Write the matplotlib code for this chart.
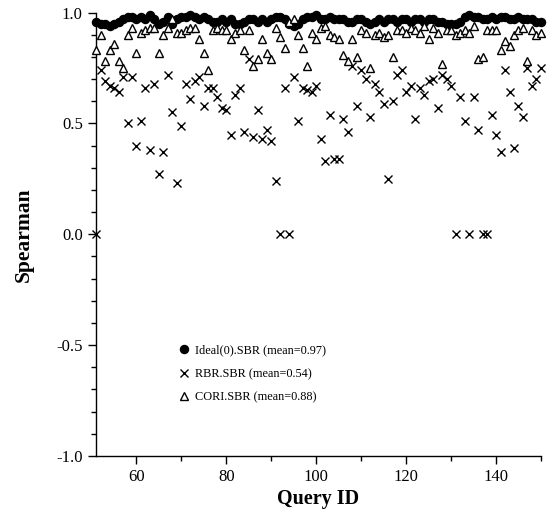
import matplotlib

matplotlib.use("Agg")
import matplotlib.pyplot as plt
from matplotlib.ticker import MultipleLocator


QUERY_IDS = list(range(51, 151))

IDEAL = [
    0.96, 0.95, 0.95, 0.94, 0.95, 0.96, 0.97, 0.98, 0.98, 0.97,
    0.98, 0.97, 0.99, 0.97, 0.95, 0.96, 0.98, 0.95, 0.97, 0.98,
    0.98, 0.99, 0.98, 0.97, 0.98, 0.97, 0.96, 0.96, 0.97, 0.96,
    0.97, 0.95, 0.95, 0.96, 0.97, 0.97, 0.96, 0.97, 0.96, 0.97,
    0.98, 0.98, 0.97, 0.95, 0.94, 0.95, 0.97, 0.98, 0.98, 0.99,
    0.97, 0.97, 0.98, 0.97, 0.97, 0.97, 0.96, 0.96, 0.97, 0.97,
    0.96, 0.95, 0.96, 0.97, 0.96, 0.97, 0.97, 0.96, 0.97, 0.97,
    0.96, 0.97, 0.97, 0.96, 0.97, 0.97, 0.96, 0.96, 0.95, 0.95,
    0.95, 0.96, 0.98, 0.99, 0.98, 0.98, 0.97, 0.97, 0.98, 0.97,
    0.98, 0.98, 0.97, 0.97, 0.98, 0.97, 0.97, 0.97, 0.96, 0.96,
]

RBR = [
    0.00, 0.74, 0.69, 0.67, 0.66, 0.64, 0.71, 0.50, 0.71, 0.40,
    0.51, 0.66, 0.38, 0.68, 0.27, 0.37, 0.72, 0.55, 0.23, 0.49,
    0.68, 0.61, 0.69, 0.71, 0.58, 0.66, 0.66, 0.62, 0.57, 0.56,
    0.45, 0.63, 0.66, 0.46, 0.79, 0.44, 0.56, 0.43, 0.47, 0.42,
    0.24, 0.00, 0.66, 0.00, 0.71, 0.51, 0.66, 0.65, 0.64, 0.67,
    0.43, 0.33, 0.54, 0.34, 0.34, 0.52, 0.46, 0.76, 0.58, 0.74,
    0.70, 0.53, 0.68, 0.64, 0.59, 0.25, 0.60, 0.72, 0.74, 0.64,
    0.67, 0.52, 0.66, 0.63, 0.69, 0.70, 0.57, 0.72, 0.70, 0.67,
    0.00, 0.62, 0.51, 0.00, 0.62, 0.47, 0.00, 0.00, 0.54, 0.45,
    0.37, 0.74, 0.64, 0.39, 0.58, 0.53, 0.75, 0.67, 0.70, 0.75,
]

CORI = [
    0.83, 0.90, 0.78, 0.83, 0.86, 0.78, 0.75, 0.90, 0.93, 0.82,
    0.91, 0.92, 0.93, 0.93, 0.82, 0.90, 0.93, 0.97, 0.91, 0.91,
    0.92, 0.93, 0.93, 0.88, 0.82, 0.74, 0.92, 0.93, 0.92, 0.92,
    0.88, 0.91, 0.92, 0.83, 0.92, 0.76, 0.79, 0.88, 0.82, 0.79,
    0.93, 0.89, 0.84, 0.96, 0.97, 0.90, 0.84, 0.76, 0.91, 0.88,
    0.93, 0.94, 0.90, 0.89, 0.88, 0.81, 0.78, 0.88, 0.80, 0.92,
    0.91, 0.75, 0.90, 0.91, 0.89, 0.90, 0.80, 0.92, 0.92, 0.91,
    0.93, 0.92, 0.91, 0.94, 0.88, 0.93, 0.91, 0.77, 0.92, 0.92,
    0.90, 0.91, 0.92, 0.91, 0.94, 0.79, 0.80, 0.92, 0.92, 0.92,
    0.83, 0.87, 0.85, 0.90, 0.92, 0.93, 0.78, 0.92, 0.90, 0.91,
]

LABELS = [
    "Ideal(0).SBR (mean=0.97)",
    "RBR.SBR (mean=0.54)",
    "CORI.SBR (mean=0.88)",
]
X_TICKS = [60, 80, 100, 120, 140]
Y_TICKS = [-1.0, -0.5, 0.0, 0.5, 1.0]


def main():
    plt.rcParams["font.family"] = ["Liberation Serif", "DejaVu Serif"]
    plt.rcParams["axes.unicode_minus"] = False

    fig = plt.figure(figsize=(5.52, 5.18), dpi=100)
    ax = fig.add_axes([0.174, 0.12, 0.806, 0.8555])

    ax.plot(QUERY_IDS, IDEAL, linestyle="none", marker="o", markersize=5.8,
            color="black", label=LABELS[0], zorder=3, clip_on=False)
    ax.plot(QUERY_IDS, RBR, linestyle="none", marker="x", markersize=5.5,
            markeredgewidth=1.0, color="black", label=LABELS[1], zorder=4,
            clip_on=False)
    ax.plot(QUERY_IDS, CORI, linestyle="none", marker="^", markersize=5.5,
            markeredgewidth=1.0, markerfacecolor="white",
            markeredgecolor="black", label=LABELS[2], zorder=5, clip_on=False)

    ax.set_xlim(51, 150)
    ax.set_ylim(-1.0, 1.0)
    ax.set_xticks(X_TICKS)
    ax.set_yticks(Y_TICKS)
    ax.set_yticklabels([f"{v:.1f}" for v in Y_TICKS])
    ax.xaxis.set_minor_locator(MultipleLocator(10))
    ax.yaxis.set_minor_locator(MultipleLocator(0.1))

    for side in ("top", "right"):
        ax.spines[side].set_visible(False)
    for side in ("left", "bottom"):
        ax.spines[side].set_linewidth(1.0)

    ax.tick_params(which="major", direction="out", length=6, width=1,
                   labelsize=12)
    ax.tick_params(which="minor", direction="out", length=3.5, width=1)

    ax.set_xlabel("Query ID", fontsize=14.5, fontweight="bold", labelpad=3)
    ax.set_ylabel("Spearman", fontsize=15.5, fontweight="bold", labelpad=16)

    ax.legend(loc="lower left", bbox_to_anchor=(0.184, 0.119),
              frameon=False, fontsize=8.8, handlelength=1.0,
              handletextpad=0.4, labelspacing=0.92, borderpad=0,
              borderaxespad=0)

    fig.savefig("out.png", dpi=100)
    plt.close(fig)


if __name__ == "__main__":
    main()
